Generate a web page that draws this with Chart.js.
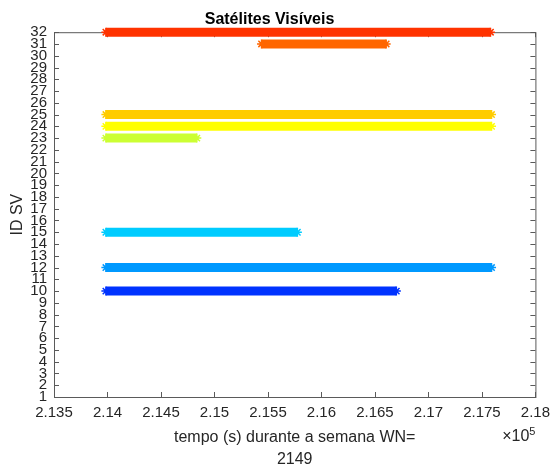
<!DOCTYPE html>
<html>
<head>
<meta charset="utf-8">
<script src="https://cdn.jsdelivr.net/npm/chart.js@4"></script>
<style>
  html, body { margin: 0; padding: 0; background: #fff; }
  #wrap { width: 557px; height: 464px; }
</style>
</head>
<body>
<div id="wrap"><canvas id="chart-sv" width="557" height="464"></canvas></div>
<script>
// ── Data ─────────────────────────────────────────────────────────
const svIds      = [32, 31, 25, 24, 23, 15, 12, 10];
const startTimes = [213985, 215440, 213985, 213985, 213985, 213985, 213985, 213985];
const endTimes   = [217580, 216605, 217590, 217590, 214835, 215775, 217590, 216700];
const svColors   = ['#ff3300', '#ff6600', '#ffcc00', '#ffff00', '#ccff33', '#00ccff', '#0099ff', '#0033ff'];

const X_MIN = 213500, X_MAX = 218000, X_STEP = 500;
const Y_MIN = 1, Y_MAX = 32;

const FONT = 'Liberation Sans, Arial, Helvetica, sans-serif';
const AXIS_COLOR = '#5a5a5a';
const TEXT_COLOR = '#262626';

// ── Plugin: MATLAB-style box with inward ticks and ×10^5 marker ──
const matlabBox = {
  id: 'matlabBox',
  beforeDatasetsDraw(chart) {
    const { ctx, chartArea: a, scales: { x, y } } = chart;
    ctx.save();
    ctx.strokeStyle = AXIS_COLOR;
    ctx.lineWidth = 1;
    ctx.strokeRect(a.left + 0.5, a.top + 0.5, a.right - a.left, a.bottom - a.top);
    ctx.beginPath();
    x.ticks.forEach(t => {
      const px = Math.round(x.getPixelForValue(t.value)) + 0.5;
      ctx.moveTo(px, a.bottom); ctx.lineTo(px, a.bottom - 5);
      ctx.moveTo(px, a.top);    ctx.lineTo(px, a.top + 5);
    });
    y.ticks.forEach(t => {
      const py = Math.round(y.getPixelForValue(t.value)) + 0.5;
      ctx.moveTo(a.left, py);  ctx.lineTo(a.left + 5, py);
      ctx.moveTo(a.right, py); ctx.lineTo(a.right - 5, py);
    });
    ctx.stroke();

    // exponent label under the right end of the x axis
    ctx.fillStyle = TEXT_COLOR;
    ctx.textBaseline = 'alphabetic';
    ctx.textAlign = 'right';
    ctx.font = '11px ' + FONT;
    ctx.fillText('5', a.right, a.bottom + 38);
    const supW = ctx.measureText('5').width;
    ctx.font = '16px ' + FONT;
    ctx.fillText('\u00d710', a.right - supW, a.bottom + 44);
    ctx.restore();
  },
};

// ── One two-point line per satellite ─────────────────────────────
const datasets = svIds.map((id, i) => ({
  label: 'SV ' + id,
  data: [{ x: startTimes[i], y: id }, { x: endTimes[i], y: id }],
  borderColor: svColors[i],
  backgroundColor: svColors[i],
  borderWidth: 9,
  pointStyle: 'star',
  pointRadius: 4.5,
  pointBorderWidth: 1.5,
  pointBorderColor: svColors[i],
  clip: false,
}));

new Chart(document.getElementById('chart-sv'), {
  type: 'line',
  data: { datasets },
  options: {
    responsive: false,
    animation: false,
    layout: { padding: { left: 0, right: 18, top: 0, bottom: 0 } },
    plugins: {
      legend: { display: false },
      tooltip: { enabled: false },
      title: {
        display: true,
        text: 'Satélites Visíveis',
        color: '#000',
        font: { family: FONT, size: 16, weight: 'bold', lineHeight: 1.2 },
        padding: { top: 10, bottom: 3 },
      },
    },
    scales: {
      x: {
        type: 'linear',
        min: X_MIN,
        max: X_MAX,
        afterFit: s => { s.height = 67; },
        border: { display: false },
        grid: { display: false, drawTicks: false },
        ticks: {
          stepSize: X_STEP,
          color: TEXT_COLOR,
          font: { family: FONT, size: 15 },
          padding: 7,
          maxRotation: 0,
          autoSkip: false,
          callback: v => String(+(v / 1e5).toFixed(3)),
        },
        title: {
          display: true,
          text: ['tempo (s) durante a semana WN=', '2149'],
          color: TEXT_COLOR,
          font: { family: FONT, size: 16, lineHeight: 1.35 },
          padding: { top: 0, bottom: -6 },
        },
      },
      y: {
        type: 'linear',
        min: Y_MIN,
        max: Y_MAX,
        afterFit: s => { s.width = 54; },
        border: { display: false },
        grid: { display: false, drawTicks: false },
        ticks: {
          stepSize: 1,
          color: TEXT_COLOR,
          font: { family: FONT, size: 15 },
          padding: 7,
          autoSkip: false,
        },
        title: {
          display: true,
          text: 'ID SV',
          color: TEXT_COLOR,
          font: { family: FONT, size: 16 },
          padding: { top: 8, bottom: 0 },
        },
      },
    },
  },
  plugins: [matlabBox],
});
</script>
</body>
</html>
